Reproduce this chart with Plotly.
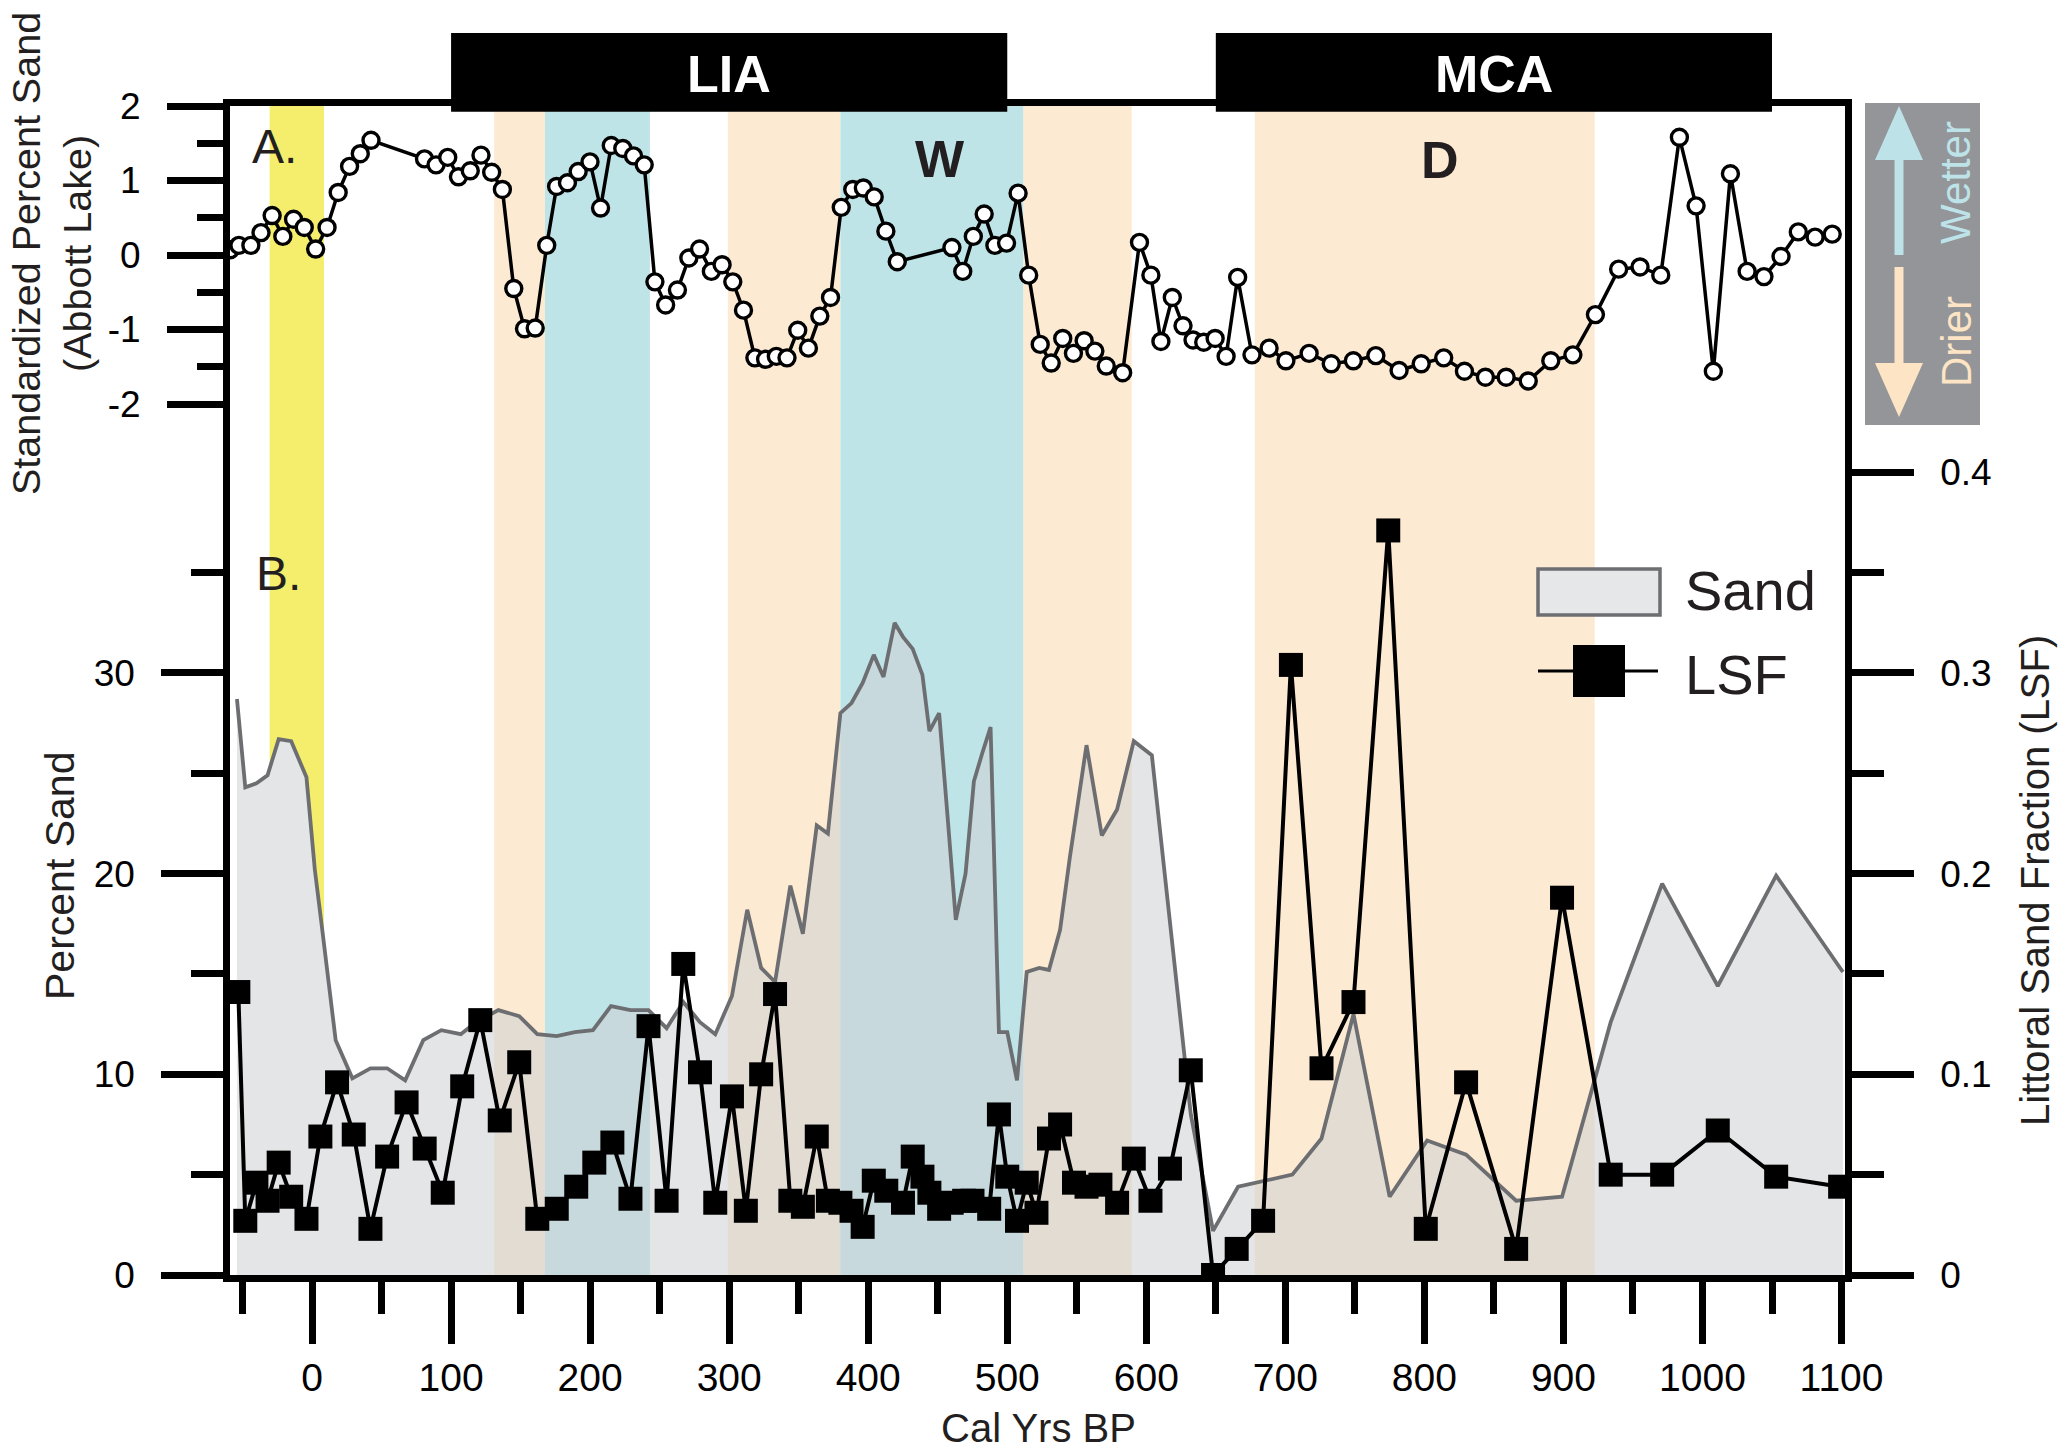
import plotly.graph_objects as go

# ---------------- data ----------------
# Panel A: standardized percent sand, Abbott Lake
a_age = [-59, -52.6, -44, -36.7, -28.7, -21, -13.3, -5.6, 2.6, 10.8, 18.8, 27, 34.7, 42.4,
         80.9, 89.2, 97.6, 105.3, 113.8, 121.5, 129.2, 136.9, 145.1, 152.8, 160.5, 168.8,
         175.9, 183.7, 191.4, 199.9, 207.5, 215.2, 223.5, 231.2, 238.9, 246.6, 254.3, 262.8,
         271.0, 278.7, 287.2, 294.9, 302.6, 310.3, 318.5, 326.2, 333.9, 341.6, 349.3, 357.0,
         365.2, 372.9, 380.6, 388.9, 396.5, 404.3, 412.7, 420.9, 460.2, 468.0, 475.6, 483.4,
         491.1, 499.5, 507.8, 515.4, 523.7, 531.6, 539.9, 547.6, 555.3, 563.0, 571.2, 583.0,
         595.1, 603.3, 610.5, 618.7, 626.4, 633.6, 641.3, 649.5, 657.4, 665.7, 676.0, 688.3,
         700.4, 717.1, 733.0, 748.9, 765.1, 781.8, 797.7, 813.9, 828.8, 843.9, 858.8, 874.7,
         890.9, 906.8, 923.0, 939.7, 955.1, 970.0, 983.4, 995.4, 1007.8, 1020.1, 1032.1,
         1044.2, 1056.5, 1068.9, 1081.0, 1093.3]
a_val = [0.07, 0.13, 0.13, 0.30, 0.53, 0.25, 0.48, 0.37, 0.08, 0.37, 0.84, 1.19, 1.36, 1.54,
         1.29, 1.21, 1.31, 1.05, 1.13, 1.34, 1.11, 0.88, -0.45, -0.99, -0.98, 0.13,
         0.92, 0.97, 1.12, 1.25, 0.63, 1.47, 1.43, 1.33, 1.21, -0.36, -0.67, -0.47,
         -0.04, 0.08, -0.22, -0.13, -0.36, -0.74, -1.38, -1.40, -1.36, -1.38, -1.01, -1.25,
         -0.82, -0.57, 0.64, 0.88, 0.90, 0.78, 0.32, -0.09, 0.10, -0.22, 0.25, 0.55,
         0.13, 0.16, 0.83, -0.27, -1.20, -1.45, -1.12, -1.32, -1.15, -1.29, -1.49, -1.58,
         0.17, -0.27, -1.16, -0.57, -0.95, -1.14, -1.17, -1.12, -1.36, -0.30, -1.34, -1.25,
         -1.42, -1.32, -1.46, -1.42, -1.35, -1.55, -1.46, -1.38, -1.56, -1.64, -1.64, -1.69,
         -1.42, -1.34, -0.80, -0.19, -0.16, -0.27, 1.58, 0.66, -1.56, 1.09, -0.22,
         -0.29, -0.02, 0.31, 0.24, 0.28]

# Panel B: percent sand
sand_age = [-54, -48, -40, -32, -24, -15, -4, 2, 7, 17, 29, 42, 54, 67, 80, 93, 107, 118,
            134, 149, 162, 176, 189, 202, 215, 229, 242, 255, 267, 279, 290, 302, 313, 323,
            333, 344, 353, 363, 371, 380, 388, 396, 404, 411, 419, 425, 432, 439, 444, 451,
            457, 463, 470, 476, 482, 488, 494, 500, 507, 514, 523, 530, 538, 545, 557, 568,
            579, 591, 604, 632, 648, 666, 705, 726, 749, 775, 802, 830, 866, 899, 934, 971,
            1011, 1053, 1101]
sand_pct = [28.7, 24.3, 24.5, 24.9, 26.7, 26.6, 24.8, 20.2, 17.4, 11.7, 9.8, 10.3, 10.3, 9.7,
            11.7, 12.2, 12.0, 12.6, 13.2, 12.9, 12.0, 11.9, 12.1, 12.2, 13.4, 13.2, 13.2, 12.3,
            13.6, 12.6, 12.0, 13.9, 18.2, 15.3, 14.6, 19.4, 17.0, 22.4, 22.0, 28.0, 28.5, 29.5,
            30.9, 29.8, 32.5, 31.8, 31.2, 29.9, 27.1, 28.0, 22.9, 17.7, 20.0, 24.6, 26.0, 27.3,
            12.1, 12.1, 9.7, 15.1, 15.3, 15.2, 17.2, 20.8, 26.4, 21.9, 23.2, 26.6, 25.9, 8.0,
            2.2, 4.4, 5.0, 6.8, 13.0, 3.9, 6.7, 6.0, 3.7, 3.9, 12.6, 19.5, 14.4, 19.9, 15.1]

# Panel B: littoral sand fraction
lsf_age = [-53, -48, -40, -32, -24, -15, -4, 6, 18, 30, 42, 54, 68, 81, 94, 108, 121, 135,
           149, 162, 176, 190, 203, 216, 229, 242, 255, 267, 279, 290, 302, 312, 323, 333,
           344, 353, 363, 371, 380, 388, 396, 404, 413, 425, 432, 439, 444, 451, 460, 469,
           475, 487, 494, 500, 507, 514, 521, 530, 538, 548, 557, 567, 579, 591, 603, 617,
           632, 648, 665, 684, 704, 726, 749, 774, 801, 830, 866, 899, 934, 971, 1011, 1053,
           1099]
lsf_val = [0.141, 0.027, 0.046, 0.037, 0.056, 0.039, 0.028, 0.069, 0.096, 0.070, 0.023,
           0.059, 0.086, 0.063, 0.041, 0.094, 0.127, 0.077, 0.106, 0.028, 0.033, 0.044,
           0.056, 0.066, 0.038, 0.124, 0.037, 0.155, 0.101, 0.036, 0.089, 0.032, 0.100,
           0.140, 0.037, 0.034, 0.069, 0.037, 0.036, 0.032, 0.024, 0.047, 0.042, 0.036,
           0.059, 0.049, 0.041, 0.033, 0.036, 0.037, 0.037, 0.033, 0.080, 0.049, 0.027,
           0.046, 0.031, 0.068, 0.075, 0.046, 0.044, 0.045, 0.036, 0.058, 0.037, 0.053,
           0.102, 0.000, 0.013, 0.027, 0.304, 0.103, 0.136, 0.371, 0.023, 0.096, 0.013,
           0.188, 0.050, 0.050, 0.072, 0.049, 0.044]

# Climate periods (black bars)
period_names = ["LIA", "MCA"]
period_start = [100, 650]
period_end = [500, 1050]

# Shaded intervals
dry_start = [131, 299, 511.5, 678]
dry_end = [167.5, 380, 589.5, 922.5]
wet_start = [167.5, 380]
wet_end = [243, 511.5]
yellow_start = [-30.5]
yellow_end = [8.6]
wet_label = "W"
wet_label_age = 451.7
dry_label = "D"
dry_label_age = 811

# Ticks
x_ticks = list(range(0, 1101, 100))
x_minor = list(range(-50, 1051, 100))
a_ticks = [-2, -1, 0, 1, 2]
a_minor = [-1.5, -0.5, 0.5, 1.5]
sand_ticks = [0, 10, 20, 30]
sand_minor = [5, 15, 25, 35]
lsf_ticks = [0, 0.1, 0.2, 0.3, 0.4]
lsf_minor = [0.05, 0.15, 0.25, 0.35]

X_RANGE = [-59, 1102.5]
SAND_RANGE = [0, 58.25]
LSF_RANGE = [0, 0.5825]
A_RANGE = [-13.69, 2]

# ---------------- styling ----------------
W, H = 2061, 1455
L, R, T, B = 230, 1845, 106, 1275
FONT = "Liberation Sans, Arial, sans-serif"
TXT = "#231f20"
LW = 6.5
MAJ, MIN = 62, 32
YELLOW = "#f5ee6c"
BEIGE = "#fdead2"
BLUE = "#bee4e8"
SAND_LINE = "#6d6e71"
SAND_FILL = "rgba(205,208,210,0.55)"


def fx(X):
    return (X - L) / (R - L)


def fy(Y):
    return (B - Y) / (B - T)


fig = go.Figure()


def band(s, e, color):
    top = SAND_RANGE[1]
    fig.add_trace(go.Scatter(x=[s, s, e, e, s], y=[0, top, top, 0, 0], mode="lines",
                             fill="toself", fillcolor=color, line=dict(width=0),
                             hoverinfo="skip", showlegend=False, yaxis="y"))


for s, e in zip(yellow_start, yellow_end):
    band(s, e, YELLOW)

# white mask under the sand curve (hides yellow below the curve)
fig.add_trace(go.Scatter(x=sand_age, y=sand_pct, mode="lines", fill="tozeroy",
                         fillcolor="white", line=dict(width=0), hoverinfo="skip",
                         showlegend=False, yaxis="y"))

for s, e in zip(dry_start, dry_end):
    band(s, e, BEIGE)
for s, e in zip(wet_start, wet_end):
    band(s, e, BLUE)

fig.add_trace(go.Scatter(x=sand_age, y=sand_pct, mode="lines", fill="tozeroy",
                         fillcolor=SAND_FILL, line=dict(color=SAND_LINE, width=3.8),
                         name="Sand", showlegend=False, yaxis="y"))

fig.add_trace(go.Scatter(x=lsf_age, y=lsf_val, mode="lines+markers",
                         line=dict(color="black", width=4),
                         marker=dict(symbol="square", size=24, color="black"),
                         name="LSF", showlegend=False, yaxis="y2"))

fig.add_trace(go.Scatter(x=a_age, y=a_val, mode="lines+markers",
                         line=dict(color="black", width=3.5),
                         marker=dict(symbol="circle", size=16, color="white",
                                     line=dict(color="black", width=3.4)),
                         name="Abbott Lake", showlegend=False, yaxis="y3"))

tickfont = dict(family=FONT, size=37, color="black")
common_y = dict(showgrid=False, zeroline=False, ticks="outside", ticklen=MAJ,
                tickwidth=LW, tickcolor="black", tickmode="array")

fig.update_layout(
    width=W, height=H, autosize=False,
    margin=dict(l=L, r=W - R, t=T, b=H - B, pad=0),
    paper_bgcolor="white", plot_bgcolor="white",
    font=dict(family=FONT, color=TXT),
    showlegend=False,
    xaxis=dict(range=X_RANGE, showline=True, linewidth=LW, linecolor="black", mirror=True,
               ticks="outside", tickmode="array", tickvals=x_ticks,
               ticktext=[str(v) for v in x_ticks], ticklen=MAJ, tickwidth=LW,
               tickcolor="black",
               minor=dict(tickmode="array", tickvals=x_minor, ticks="outside", ticklen=MIN,
                          tickwidth=LW, tickcolor="black"),
               tickfont=dict(family=FONT, size=39, color="black"), showgrid=False,
               zeroline=False, ticklabelstandoff=0),
    yaxis=dict(range=SAND_RANGE, showline=True, linewidth=LW, linecolor="black",
               tickvals=sand_ticks, ticktext=[str(v) for v in sand_ticks],
               minor=dict(tickmode="array", tickvals=sand_minor, ticks="outside",
                          ticklen=MIN, tickwidth=LW, tickcolor="black"),
               tickfont=tickfont, ticklabelstandoff=19, **common_y),
    yaxis2=dict(range=LSF_RANGE, overlaying="y", side="right", anchor="x", showline=True,
                linewidth=LW, linecolor="black",
                tickvals=lsf_ticks, ticktext=["0", "0.1", "0.2", "0.3", "0.4"],
                minor=dict(tickmode="array", tickvals=lsf_minor, ticks="outside",
                           ticklen=MIN, tickwidth=LW, tickcolor="black"),
                tickfont=dict(family=FONT, size=37, color="black"), ticklabelstandoff=19,
                **common_y),
    yaxis3=dict(range=A_RANGE, overlaying="y", side="left", anchor="x", showline=False,
                tickvals=a_ticks, ticktext=[str(v) for v in a_ticks],
                minor=dict(tickmode="array", tickvals=a_minor, ticks="outside",
                           ticklen=MIN, tickwidth=LW, tickcolor="black"),
                tickfont=tickfont, ticklabelstandoff=19, **common_y),
)

shapes = []
annotations = []

# climate period bars
for name, s, e in zip(period_names, period_start, period_end):
    shapes.append(dict(type="rect", xref="x", yref="paper", x0=s, x1=e, y0=0.995,
                       y1=fy(33), fillcolor="black", line=dict(width=0), layer="above"))
    annotations.append(dict(text="<b>%s</b>" % name, xref="x", yref="paper", x=(s + e) / 2,
                            y=fy(74), showarrow=False, xanchor="center", yanchor="middle",
                            font=dict(family=FONT, size=52, color="white")))

# panel letters and W / D labels
annotations.append(dict(text="A.", xref="paper", yref="paper", x=fx(250), y=fy(147),
                        showarrow=False, xanchor="left", yanchor="middle",
                        font=dict(family=FONT, size=48, color=TXT)))
annotations.append(dict(text="B.", xref="paper", yref="paper", x=fx(254), y=fy(573),
                        showarrow=False, xanchor="left", yanchor="middle",
                        font=dict(family=FONT, size=48, color=TXT)))
annotations.append(dict(text="<b>%s</b>" % wet_label, xref="x", yref="y3", x=wet_label_age,
                        y=1.29, showarrow=False, xanchor="center", yanchor="middle",
                        font=dict(family=FONT, size=52, color=TXT)))
annotations.append(dict(text="<b>%s</b>" % dry_label, xref="x", yref="y3", x=dry_label_age,
                        y=1.27, showarrow=False, xanchor="center", yanchor="middle",
                        font=dict(family=FONT, size=52, color=TXT)))

# axis titles
annotations.append(dict(text="Standardized Percent Sand<br>(Abbott Lake)", xref="paper",
                        yref="paper", x=fx(52), y=fy(254), textangle=-90, showarrow=False,
                        xanchor="center", yanchor="middle",
                        font=dict(family=FONT, size=39.5, color=TXT)))
annotations.append(dict(text="Percent Sand", xref="paper", yref="paper", x=fx(60),
                        y=fy(876), textangle=-90, showarrow=False, xanchor="center",
                        yanchor="middle", font=dict(family=FONT, size=41, color=TXT)))
annotations.append(dict(text="Littoral Sand Fraction (LSF)", xref="paper", yref="paper",
                        x=fx(2035), y=fy(881), textangle=-90, showarrow=False,
                        xanchor="center", yanchor="middle",
                        font=dict(family=FONT, size=40, color=TXT)))
annotations.append(dict(text="Cal Yrs BP", xref="paper", yref="paper", x=fx(1038),
                        y=fy(1428), showarrow=False, xanchor="center", yanchor="middle",
                        font=dict(family=FONT, size=40, color=TXT)))

# legend (drawn by hand to match size)
shapes.append(dict(type="rect", xref="paper", yref="paper", x0=fx(1538), x1=fx(1660),
                   y0=fy(615), y1=fy(569), fillcolor="#e6e7e8",
                   line=dict(color=SAND_LINE, width=3.5), layer="above"))
shapes.append(dict(type="line", xref="paper", yref="paper", x0=fx(1538), x1=fx(1658),
                   y0=fy(671), y1=fy(671), line=dict(color="black", width=3), layer="above"))
shapes.append(dict(type="rect", xref="paper", yref="paper", x0=fx(1573), x1=fx(1625),
                   y0=fy(697), y1=fy(645), fillcolor="black", line=dict(width=0),
                   layer="above"))
annotations.append(dict(text="Sand", xref="paper", yref="paper", x=fx(1683), y=fy(590),
                        showarrow=False, xanchor="left", yanchor="middle",
                        font=dict(family=FONT, size=56, color=TXT)))
annotations.append(dict(text="LSF", xref="paper", yref="paper", x=fx(1683), y=fy(674),
                        showarrow=False, xanchor="left", yanchor="middle",
                        font=dict(family=FONT, size=56, color=TXT)))

# Wetter / Drier key
WET_C = "#bde3e8"
DRY_C = "#fde4c4"
shapes.append(dict(type="rect", xref="paper", yref="paper", x0=fx(1865), x1=fx(1980),
                   y0=fy(425), y1=fy(103), fillcolor="#939598", line=dict(width=0)))
shapes.append(dict(type="line", xref="paper", yref="paper", x0=fx(1899), x1=fx(1899),
                   y0=fy(255), y1=fy(156), line=dict(color=WET_C, width=9)))
shapes.append(dict(type="path", xref="paper", yref="paper",
                   path="M %f %f L %f %f L %f %f Z" % (fx(1875), fy(160), fx(1899), fy(106),
                                                       fx(1923), fy(160)),
                   fillcolor=WET_C, line=dict(width=0)))
shapes.append(dict(type="line", xref="paper", yref="paper", x0=fx(1899), x1=fx(1899),
                   y0=fy(267), y1=fy(367), line=dict(color=DRY_C, width=9)))
shapes.append(dict(type="path", xref="paper", yref="paper",
                   path="M %f %f L %f %f L %f %f Z" % (fx(1875), fy(363), fx(1899), fy(417),
                                                       fx(1923), fy(363)),
                   fillcolor=DRY_C, line=dict(width=0)))
annotations.append(dict(text="Wetter", xref="paper", yref="paper", x=fx(1956), y=fy(183),
                        textangle=-90, showarrow=False, xanchor="center", yanchor="middle",
                        font=dict(family=FONT, size=42, color=WET_C)))
annotations.append(dict(text="Drier", xref="paper", yref="paper", x=fx(1956), y=fy(342),
                        textangle=-90, showarrow=False, xanchor="center", yanchor="middle",
                        font=dict(family=FONT, size=42, color=DRY_C)))

fig.update_layout(shapes=shapes, annotations=annotations)

fig.write_html("out.html", config={"displayModeBar": False},
               post_script="document.body.style.margin='0';")
